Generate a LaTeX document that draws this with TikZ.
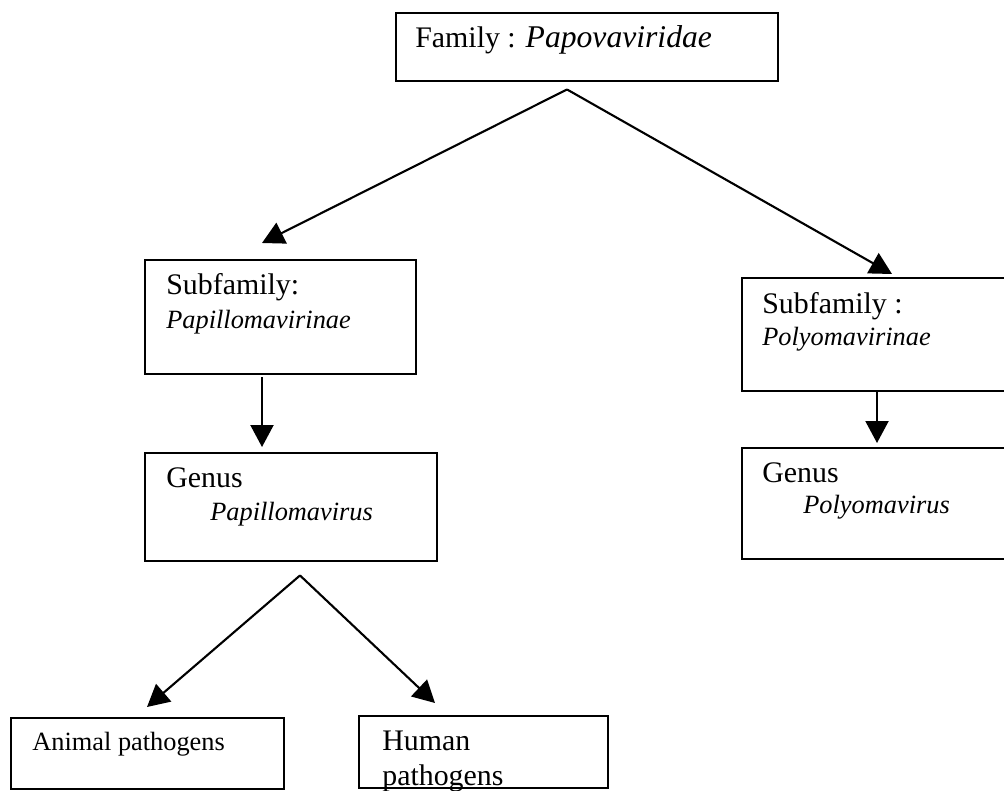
\documentclass[tikz,border=0pt]{standalone}
\usepackage{fontspec}
\setmainfont{Liberation Serif}
\usepackage{tikz}
\usetikzlibrary{positioning, arrows.meta, calc}

\begin{document}
\begin{tikzpicture}[
  x=0.02cm, y=-0.02cm,
  box/.style={draw, line width=1.4pt, inner sep=0pt, anchor=north west},
  arr/.style={-{Triangle[length=4.4mm, width=4.6mm]}, line width=1.2pt},
  rank/.style={anchor=base west, inner sep=0pt, font=\fontsize{17}{20}\selectfont},
  taxon/.style={anchor=base west, inner sep=0pt, font=\fontsize{15}{18}\selectfont\itshape},
  host/.style={anchor=base west, inner sep=0pt, font=\fontsize{15}{18}\selectfont},
]
\useasboundingbox (0,0) rectangle (1004,791);

% === Family ===
\node[box, minimum width=7.64cm, minimum height=1.36cm] (family) at (395,12) {};
\node[rank] (familytxt) at (415,47) {Family : {\fontsize{18}{21}\selectfont\itshape Papovaviridae}};
\coordinate (famfork) at ($(family.south west)+(172,7)$);

% === Subfamilies ===
\node[box, minimum width=5.42cm, minimum height=2.28cm] (subl) at (144,259) {};
\node[rank] (subltxt) at (166,294) {Subfamily:};
\node[taxon] (sublname) at (166,328) {Papillomavirinae};

\node[box, minimum width=5.58cm, minimum height=2.26cm] (subr) at (741,277) {};
\node[rank] (subrtxt) at (762,313) {Subfamily :};
\node[taxon] (subrname) at (762,345) {Polyomavirinae};

\draw[arr] (famfork) -- ($(subl.north west)+(118,-16)$);
\draw[arr] (famfork) -- ($(subr.north west)+(151,-3)$);

% === Genera ===
\node[box, minimum width=5.84cm, minimum height=2.16cm] (genl) at (144,452) {};
\node[rank] (genltxt) at (166,487) {Genus};
\node[taxon] (genlname) at (210,520) {Papillomavirus};
\draw[arr] ($(subl.south west)+(118,2)$) -- ($(genl.north west)+(118,-5)$);

\node[box, minimum width=5.58cm, minimum height=2.22cm] (genr) at (741,447) {};
\node[rank] (genrtxt) at (762,482) {Genus};
\node[taxon] (genrname) at (803,513) {Polyomavirus};
\draw[arr] ($(subr.south west)+(136,0)$) -- ($(genr.north west)+(136,-4)$);

% === Pathogens ===
\coordinate (genfork) at ($(genl.south west)+(156,13)$);

\node[box, minimum width=5.46cm, minimum height=1.42cm] (animal) at (10,717) {};
\node[host] (animaltxt) at (32,750) {Animal pathogens};

\node[box, minimum width=4.98cm, minimum height=1.44cm] (human) at (358,715) {};
\node[rank] (humantxt) at (382,750) {Human};
\node[rank] (humantxt2) at (382,785) {pathogens};

\draw[arr] (genfork) -- ($(animal.north west)+(137,-10)$);
\draw[arr] (genfork) -- ($(human.north west)+(77,-12)$);

\end{tikzpicture}
\end{document}
